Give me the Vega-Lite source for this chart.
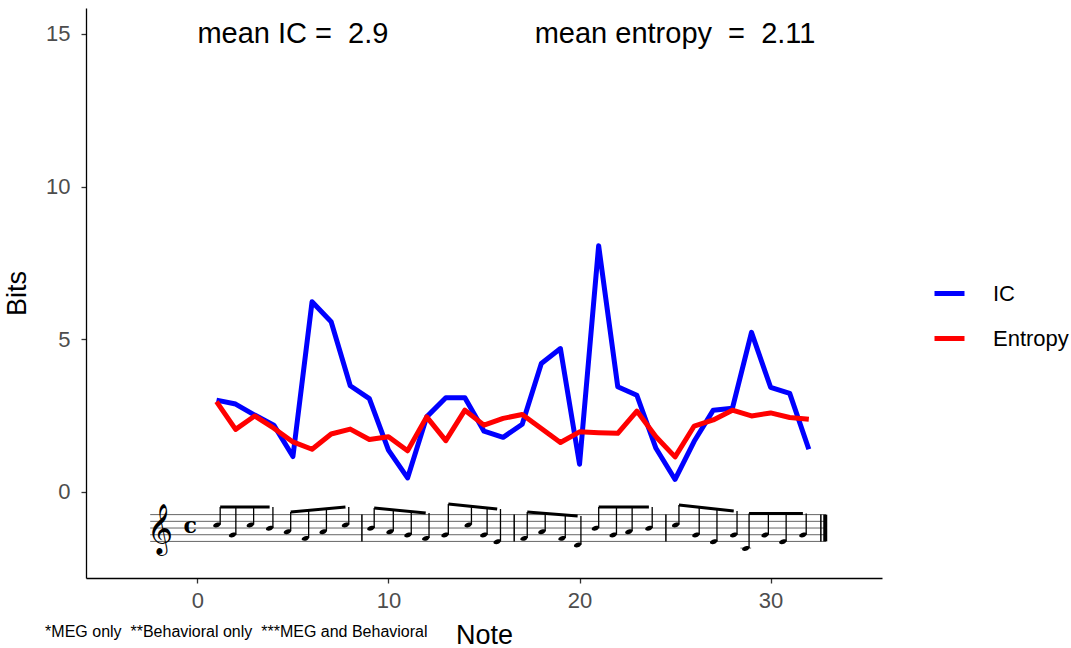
{
  "$schema": "https://vega.github.io/schema/vega-lite/v6.json",
  "width": 796,
  "height": 570,
  "autosize": {"type": "none"},
  "padding": {"left": 86, "top": 8, "right": 189, "bottom": 70},
  "background": "white",
  "config": {
    "view": {"stroke": null},
    "font": "Liberation Sans",
    "axis": {
      "grid": false,
      "domainColor": "black",
      "domainWidth": 1.3,
      "tickColor": "#333333",
      "tickWidth": 1.3,
      "tickSize": 5,
      "labelColor": "#4D4D4D",
      "labelFont": "Liberation Sans",
      "labelFontSize": 22,
      "labelPadding": 7,
      "titleFont": "Liberation Sans",
      "titleFontSize": 27,
      "titleFontWeight": "normal",
      "titleColor": "black"
    }
  },
  "datasets": {
    "series": [
      {"note": 1, "series": "IC", "bits": 3.00}, {"note": 2, "series": "IC", "bits": 2.87},
      {"note": 3, "series": "IC", "bits": 2.51}, {"note": 4, "series": "IC", "bits": 2.18},
      {"note": 5, "series": "IC", "bits": 1.15}, {"note": 6, "series": "IC", "bits": 6.22},
      {"note": 7, "series": "IC", "bits": 5.57}, {"note": 8, "series": "IC", "bits": 3.47},
      {"note": 9, "series": "IC", "bits": 3.05}, {"note": 10, "series": "IC", "bits": 1.36},
      {"note": 11, "series": "IC", "bits": 0.45}, {"note": 12, "series": "IC", "bits": 2.45},
      {"note": 13, "series": "IC", "bits": 3.08}, {"note": 14, "series": "IC", "bits": 3.08},
      {"note": 15, "series": "IC", "bits": 1.98}, {"note": 16, "series": "IC", "bits": 1.78},
      {"note": 17, "series": "IC", "bits": 2.21}, {"note": 18, "series": "IC", "bits": 4.20},
      {"note": 19, "series": "IC", "bits": 4.69}, {"note": 20, "series": "IC", "bits": 0.90},
      {"note": 21, "series": "IC", "bits": 8.06}, {"note": 22, "series": "IC", "bits": 3.44},
      {"note": 23, "series": "IC", "bits": 3.16}, {"note": 24, "series": "IC", "bits": 1.42},
      {"note": 25, "series": "IC", "bits": 0.40}, {"note": 26, "series": "IC", "bits": 1.65},
      {"note": 27, "series": "IC", "bits": 2.67}, {"note": 28, "series": "IC", "bits": 2.73},
      {"note": 29, "series": "IC", "bits": 5.22}, {"note": 30, "series": "IC", "bits": 3.42},
      {"note": 31, "series": "IC", "bits": 3.22}, {"note": 32, "series": "IC", "bits": 1.39},
      {"note": 1, "series": "Entropy", "bits": 2.95}, {"note": 2, "series": "Entropy", "bits": 2.04},
      {"note": 3, "series": "Entropy", "bits": 2.48}, {"note": 4, "series": "Entropy", "bits": 2.08},
      {"note": 5, "series": "Entropy", "bits": 1.63}, {"note": 6, "series": "Entropy", "bits": 1.39},
      {"note": 7, "series": "Entropy", "bits": 1.89}, {"note": 8, "series": "Entropy", "bits": 2.05},
      {"note": 9, "series": "Entropy", "bits": 1.71}, {"note": 10, "series": "Entropy", "bits": 1.80},
      {"note": 11, "series": "Entropy", "bits": 1.34}, {"note": 12, "series": "Entropy", "bits": 2.45},
      {"note": 13, "series": "Entropy", "bits": 1.67}, {"note": 14, "series": "Entropy", "bits": 2.67},
      {"note": 15, "series": "Entropy", "bits": 2.18}, {"note": 16, "series": "Entropy", "bits": 2.40},
      {"note": 17, "series": "Entropy", "bits": 2.53}, {"note": 18, "series": "Entropy", "bits": 2.07},
      {"note": 19, "series": "Entropy", "bits": 1.61}, {"note": 20, "series": "Entropy", "bits": 1.96},
      {"note": 21, "series": "Entropy", "bits": 1.93}, {"note": 22, "series": "Entropy", "bits": 1.91},
      {"note": 23, "series": "Entropy", "bits": 2.64}, {"note": 24, "series": "Entropy", "bits": 1.80},
      {"note": 25, "series": "Entropy", "bits": 1.14}, {"note": 26, "series": "Entropy", "bits": 2.15},
      {"note": 27, "series": "Entropy", "bits": 2.35}, {"note": 28, "series": "Entropy", "bits": 2.67},
      {"note": 29, "series": "Entropy", "bits": 2.48}, {"note": 30, "series": "Entropy", "bits": 2.58},
      {"note": 31, "series": "Entropy", "bits": 2.43}, {"note": 32, "series": "Entropy", "bits": 2.37}
    ],
    "labels": [
      {"tx": 5, "ty": 15, "label": "mean IC = \u00a02.9"},
      {"tx": 25, "ty": 15, "label": "mean entropy \u00a0= \u00a02.11"}
    ],
    "staff": [
      {"x1": -2.47, "x2": 32.9, "y": -0.753},
      {"x1": -2.47, "x2": 32.9, "y": -0.973},
      {"x1": -2.47, "x2": 32.9, "y": -1.192},
      {"x1": -2.47, "x2": 32.9, "y": -1.412},
      {"x1": -2.47, "x2": 32.9, "y": -1.631},
      {"x1": 28.42, "x2": 28.98, "y": -1.850}
    ],
    "bars": [
      {"x": 8.61, "w": "thin"}, {"x": 16.58, "w": "thin"}, {"x": 24.52, "w": "thin"},
      {"x": 32.63, "w": "thin"}, {"x": 32.86, "w": "thick"}
    ],
    "heads": [
      {"hx": 1.02, "hy": -1.083, "by": -0.504}, {"hx": 1.84, "hy": -1.412, "by": -0.504},
      {"hx": 2.77, "hy": -1.083, "by": -0.504}, {"hx": 3.78, "hy": -1.192, "by": -0.504},
      {"hx": 4.71, "hy": -1.302, "by": -0.668}, {"hx": 5.65, "hy": -1.521, "by": -0.617},
      {"hx": 6.58, "hy": -1.302, "by": -0.567}, {"hx": 7.75, "hy": -1.083, "by": -0.504},
      {"hx": 9.08, "hy": -1.192, "by": -0.537}, {"hx": 10.08, "hy": -1.302, "by": -0.592},
      {"hx": 11.02, "hy": -1.412, "by": -0.646}, {"hx": 11.95, "hy": -1.521, "by": -0.701},
      {"hx": 12.96, "hy": -1.412, "by": -0.406}, {"hx": 14.17, "hy": -1.083, "by": -0.479},
      {"hx": 14.99, "hy": -1.412, "by": -0.528}, {"hx": 15.69, "hy": -1.631, "by": -0.570},
      {"hx": 17.09, "hy": -1.521, "by": -0.668}, {"hx": 18.03, "hy": -1.302, "by": -0.712},
      {"hx": 19.08, "hy": -1.521, "by": -0.756}, {"hx": 19.90, "hy": -1.741, "by": -0.799},
      {"hx": 20.83, "hy": -1.192, "by": -0.504}, {"hx": 21.76, "hy": -1.412, "by": -0.504},
      {"hx": 22.58, "hy": -1.302, "by": -0.504}, {"hx": 23.63, "hy": -1.192, "by": -0.504},
      {"hx": 25.03, "hy": -1.083, "by": -0.439}, {"hx": 26.09, "hy": -1.412, "by": -0.504},
      {"hx": 27.02, "hy": -1.631, "by": -0.570}, {"hx": 28.07, "hy": -1.412, "by": -0.635},
      {"hx": 28.70, "hy": -1.850, "by": -0.720}, {"hx": 29.71, "hy": -1.412, "by": -0.720},
      {"hx": 30.64, "hy": -1.631, "by": -0.720}, {"hx": 31.69, "hy": -1.412, "by": -0.720}
    ],
    "beams": [
      {"x1": 1.02, "x2": 3.78, "y1": -0.504, "y2": -0.504},
      {"x1": 4.71, "x2": 7.75, "y1": -0.668, "y2": -0.504},
      {"x1": 9.08, "x2": 11.95, "y1": -0.537, "y2": -0.701},
      {"x1": 12.96, "x2": 15.69, "y1": -0.406, "y2": -0.570},
      {"x1": 17.09, "x2": 19.90, "y1": -0.668, "y2": -0.799},
      {"x1": 20.83, "x2": 23.63, "y1": -0.504, "y2": -0.504},
      {"x1": 25.03, "x2": 28.07, "y1": -0.439, "y2": -0.635},
      {"x1": 28.70, "x2": 31.69, "y1": -0.720, "y2": -0.720}
    ],
    "glyphs": [
      {"gx": -1.95, "gy": -1.25, "g": "\ud834\udd1e", "kind": "clef"},
      {"gx": -0.38, "gy": -1.192, "g": "c", "kind": "time"}
    ],
    "caption": [
      {"cx": -7.97, "cy": -4.6, "text": "*MEG only \u00a0**Behavioral only \u00a0***MEG and Behavioral"}
    ]
  },
  "layer": [
    {
      "data": {"name": "staff"},
      "mark": {"type": "rule", "color": "#666666", "strokeWidth": 1},
      "encoding": {
        "x": {"field": "x1", "type": "quantitative", "scale": {"domain": [-5.83, 35.83], "nice": false, "zero": false}, "axis": {"values": [0, 10, 20, 30], "title": "Note", "titlePadding": 11}},
        "x2": {"field": "x2"},
        "y": {"field": "y", "type": "quantitative", "scale": {"domain": [-2.83, 15.85], "nice": false, "zero": false}, "axis": {"values": [0, 5, 10, 15], "title": "Bits", "titlePadding": 14, "labelPadding": 11}}
      }
    },
    {
      "data": {"name": "bars"},
      "mark": {"type": "rule", "color": "black"},
      "encoding": {
        "x": {"field": "x", "type": "quantitative"},
        "y": {"datum": -0.753, "type": "quantitative"},
        "y2": {"datum": -1.631},
        "strokeWidth": {"field": "w", "type": "nominal", "scale": {"domain": ["thin", "thick"], "range": [1.5, 4]}, "legend": null}
      }
    },
    {
      "data": {"name": "heads"},
      "mark": {"type": "rule", "color": "black", "strokeWidth": 1.3, "xOffset": 3.3},
      "encoding": {
        "x": {"field": "hx", "type": "quantitative"},
        "y": {"field": "hy", "type": "quantitative"},
        "y2": {"field": "by"}
      }
    },
    {
      "data": {"name": "beams"},
      "mark": {"type": "rule", "color": "black", "strokeWidth": 3, "xOffset": 3.3},
      "encoding": {
        "x": {"field": "x1", "type": "quantitative"},
        "x2": {"field": "x2"},
        "y": {"field": "y1", "type": "quantitative"},
        "y2": {"field": "y2"}
      }
    },
    {
      "data": {"name": "heads"},
      "mark": {"type": "point", "filled": true, "color": "black", "opacity": 1, "size": 55, "shape": "M -1 0.35 C -1 -0.45 0.5 -0.8 0.9 -0.45 C 1.3 -0.1 0.5 0.8 -0.3 0.75 C -0.7 0.72 -1 0.6 -1 0.35 Z"},
      "encoding": {
        "x": {"field": "hx", "type": "quantitative"},
        "y": {"field": "hy", "type": "quantitative"}
      }
    },
    {
      "data": {"name": "glyphs"},
      "transform": [{"filter": "datum.kind == 'clef'"}],
      "mark": {"type": "text", "fontSize": 44, "font": "DejaVu Sans", "baseline": "middle", "align": "center", "color": "black"},
      "encoding": {
        "x": {"field": "gx", "type": "quantitative"},
        "y": {"field": "gy", "type": "quantitative"},
        "text": {"field": "g"}
      }
    },
    {
      "data": {"name": "glyphs"},
      "transform": [{"filter": "datum.kind == 'time'"}],
      "mark": {"type": "text", "fontSize": 22, "font": "DejaVu Serif", "fontWeight": "bold", "baseline": "middle", "align": "center", "color": "black", "dy": -2},
      "encoding": {
        "x": {"field": "gx", "type": "quantitative"},
        "y": {"field": "gy", "type": "quantitative"},
        "text": {"field": "g"}
      }
    },
    {
      "data": {"name": "series"},
      "mark": {"type": "line", "strokeWidth": 5, "strokeJoin": "round"},
      "encoding": {
        "x": {"field": "note", "type": "quantitative"},
        "y": {"field": "bits", "type": "quantitative"},
        "color": {
          "field": "series", "type": "nominal",
          "scale": {"domain": ["IC", "Entropy"], "range": ["#0000FF", "#FF0000"]},
          "legend": {
            "title": null, "orient": "none", "legendX": 846, "legendY": 268,
            "symbolType": "stroke", "symbolStrokeWidth": 5, "symbolSize": 900,
            "labelFontSize": 22, "labelFont": "Liberation Sans", "labelColor": "black",
            "labelOffset": 26, "rowPadding": 16, "padding": 0
          }
        }
      }
    },
    {
      "data": {"name": "labels"},
      "mark": {"type": "text", "fontSize": 29, "font": "Liberation Sans", "baseline": "middle", "align": "center", "color": "black"},
      "encoding": {
        "x": {"field": "tx", "type": "quantitative"},
        "y": {"field": "ty", "type": "quantitative"},
        "text": {"field": "label"}
      }
    },
    {
      "data": {"name": "caption"},
      "mark": {"type": "text", "fontSize": 16, "font": "Liberation Sans", "baseline": "middle", "align": "left", "color": "black"},
      "encoding": {
        "x": {"field": "cx", "type": "quantitative"},
        "y": {"field": "cy", "type": "quantitative"},
        "text": {"field": "text"}
      }
    }
  ]
}
